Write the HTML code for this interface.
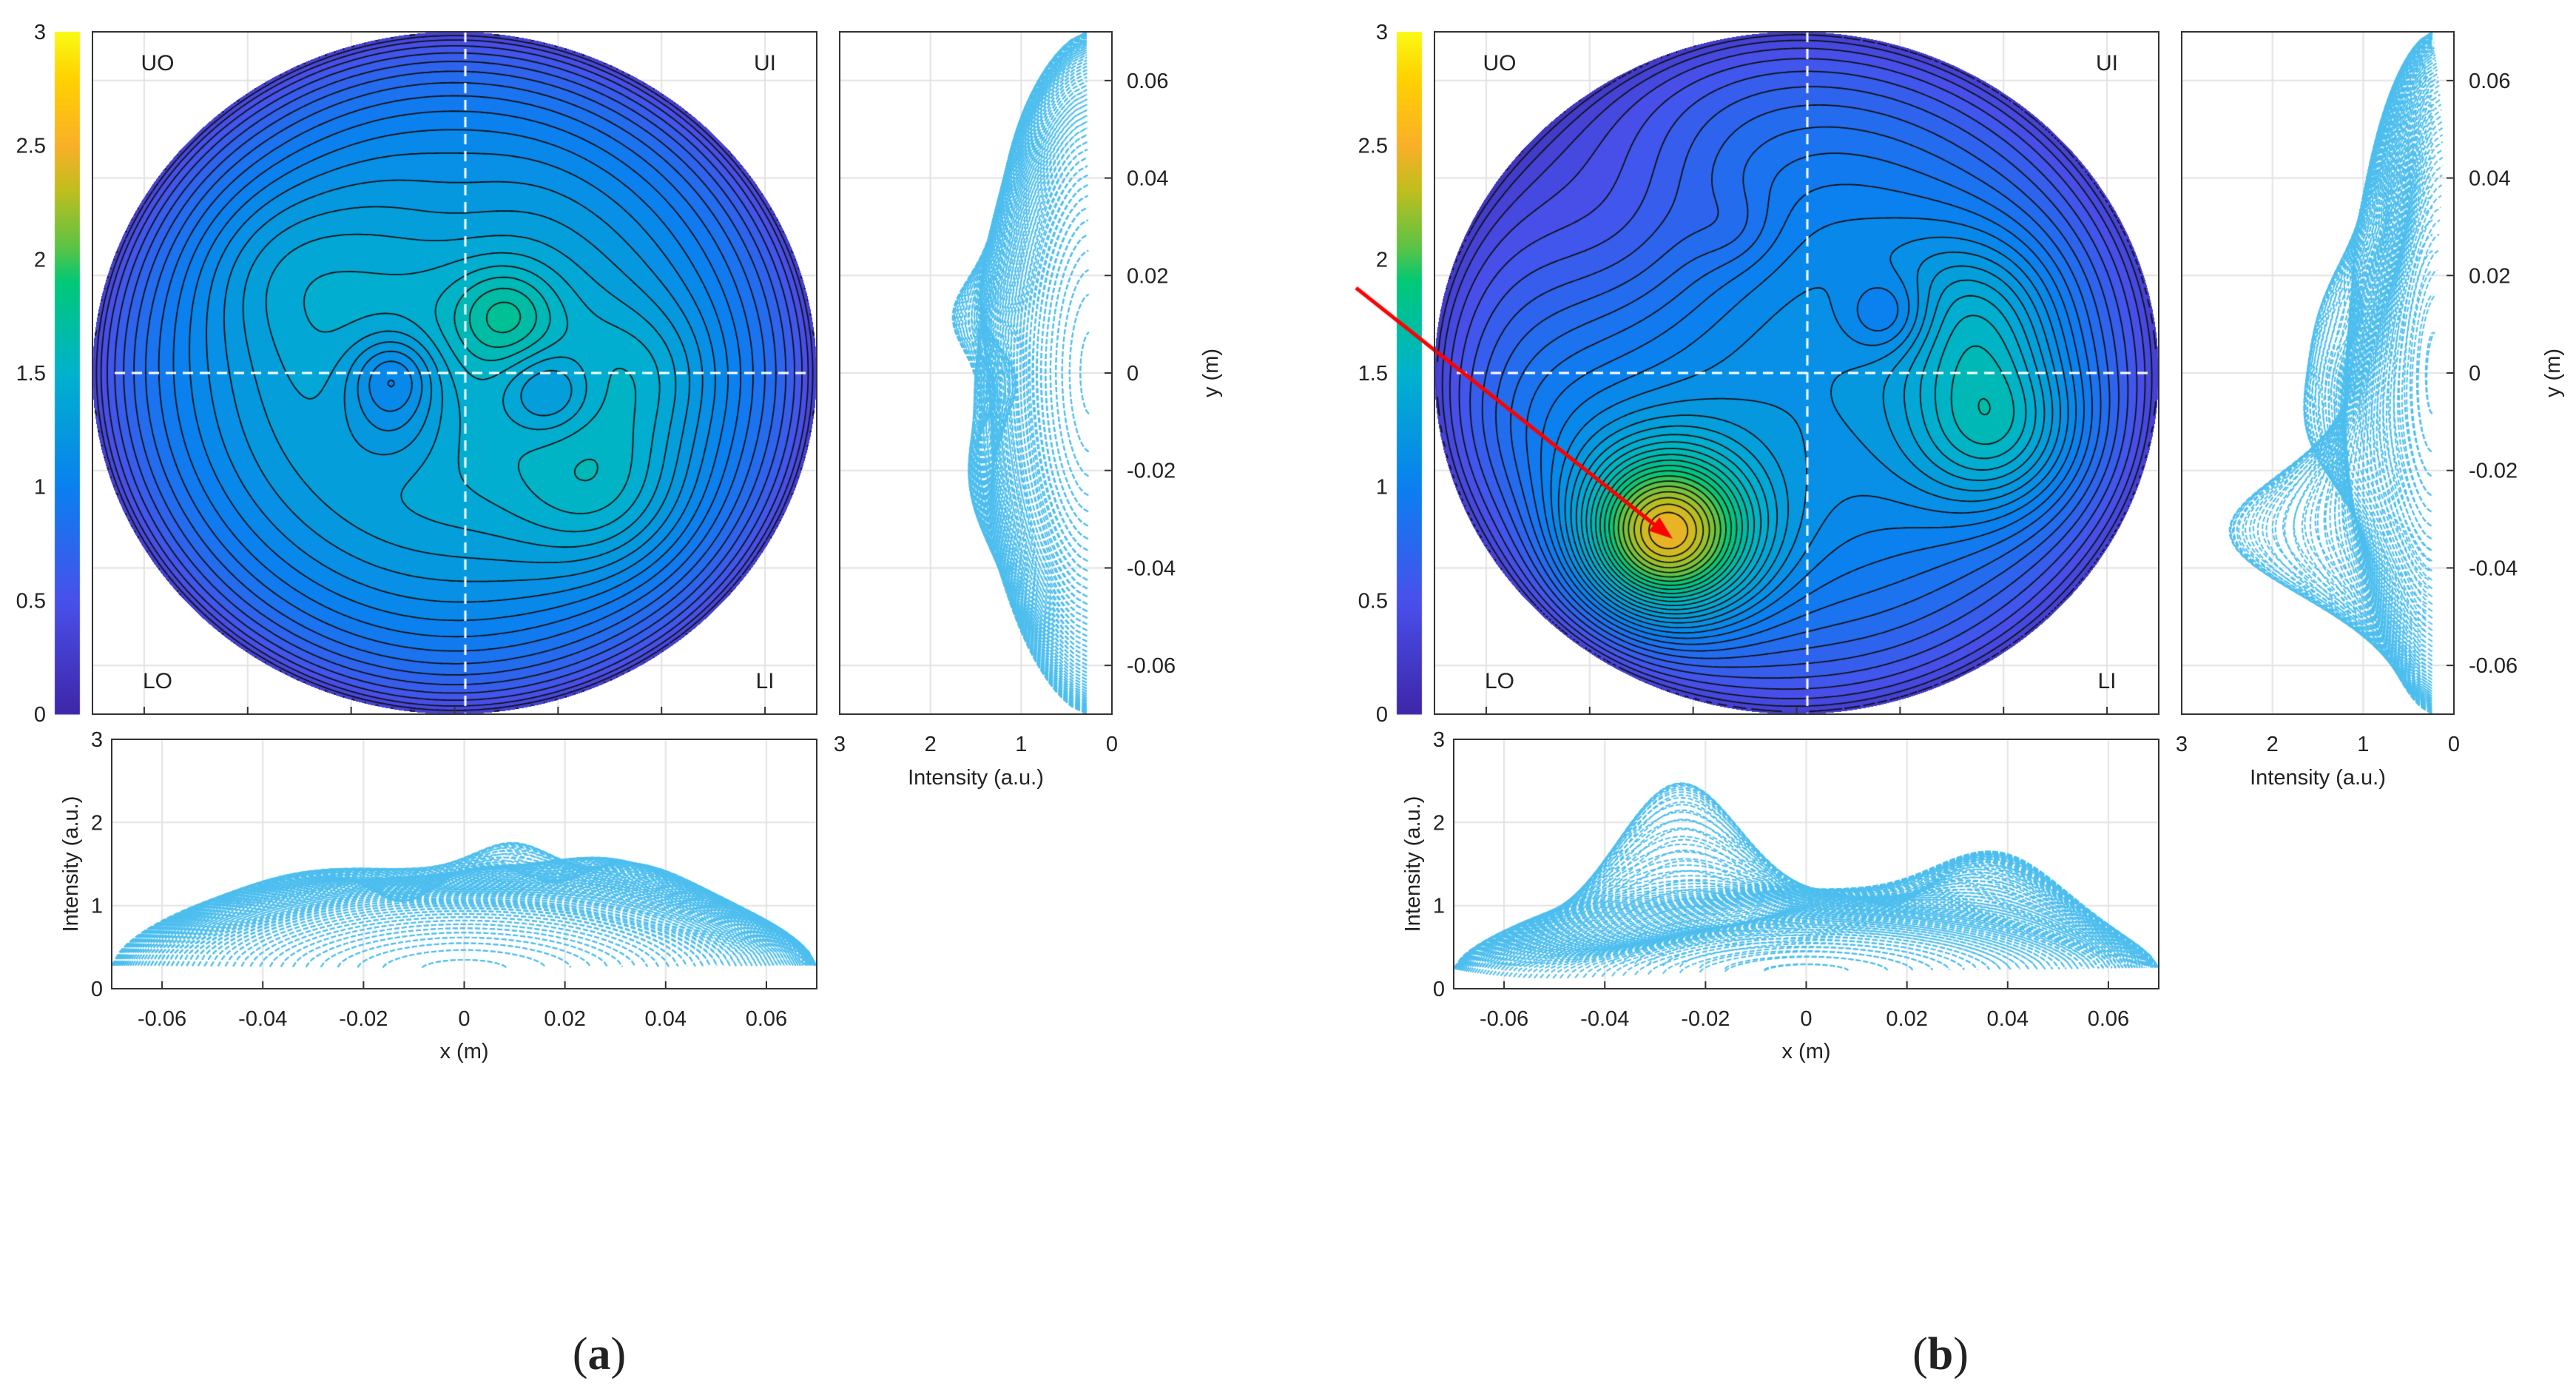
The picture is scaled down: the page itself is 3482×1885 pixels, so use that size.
<!DOCTYPE html>
<html><head><meta charset="utf-8"><style>
html,body{margin:0;padding:0;background:#fff}
#root{position:relative;width:3482px;height:1885px;overflow:hidden;font-family:"Liberation Sans",sans-serif}
canvas,svg{position:absolute;left:0;top:0}
</style></head><body>
<div id="root">
<canvas id="cv" width="3482" height="1885"></canvas>
<svg id="sv" width="3482" height="1885"></svg>
</div>
<script>
// ---- data ----
const radius = 0.07;
const xTicks = [-0.06,-0.04,-0.02,0,0.02,0.04,0.06];
const xTickLabels = ["-0.06","-0.04","-0.02","0","0.02","0.04","0.06"];
const cbTicks = [0,0.5,1,1.5,2,2.5,3];
const cbTickLabels = ["0","0.5","1","1.5","2","2.5","3"];
const intTicks = [0,1,2,3];
const intTickLabels = ["0","1","2","3"];
// panel (a) field model
const aBase = [0.25, 1.25];
const aPeakX = [-0.035, 0.010, 0.030, 0.037, -0.012, -0.012, 0.018, 0.0];
const aPeakY = [0.022, 0.012, -0.025, 0.0, 0.0, -0.010, -0.004, 0.035];
const aPeakAmp = [0.14, 0.3, 0.3, 0.18, -0.32, -0.22, -0.25, -0.06];
const aPeakW = [0.012, 0.007, 0.012, 0.01, 0.006, 0.008, 0.006, 0.01];
// panel (b) field model
const bBase = [0.22, 0.97];
const bPeakX = [-0.026, 0.040, 0.036, 0.018, -0.035, -0.012, -0.05];
const bPeakY = [-0.034, -0.012, 0.012, 0.012, 0.032, 0.03, -0.012];
const bPeakAmp = [1.7, 0.65, 0.45, -0.28, -0.38, -0.12, 0.12];
const bPeakW = [0.012, 0.012, 0.012, 0.006, 0.018, 0.006, 0.012];

const panels = [
 {off:0, base:aBase, px:aPeakX, py:aPeakY, pa:aPeakAmp, pw:aPeakW, label:"a", arrow:false},
 {off:1814, base:bBase, px:bPeakX, py:bPeakY, pa:bPeakAmp, pw:bPeakW, label:"b", arrow:true}
];

const cmapStops=[[0,62,38,168],[0.5,72,80,235],[1.0,10,128,240],[1.5,0,178,205],[1.9,0,200,120],[2.05,90,195,70],[2.3,190,190,30],[2.5,250,175,40],[2.8,255,210,0],[3,250,250,20]];
function cmap(v){v=Math.max(0,Math.min(3,v));for(let i=1;i<cmapStops.length;i++){const a=cmapStops[i-1],b=cmapStops[i];if(v<=b[0]){const t=(v-a[0])/(b[0]-a[0]);return [a[1]+t*(b[1]-a[1]),a[2]+t*(b[2]-a[2]),a[3]+t*(b[3]-a[3])];}}return [250,250,20];}

function field(p,x,y){const r2=(x*x+y*y)/(radius*radius);if(r2>1)return NaN;let v=p.base[0]+p.base[1]*Math.pow(1-r2,0.6);
 for(let i=0;i<p.px.length;i++){const dx=x-p.px[i],dy=y-p.py[i];v+=p.pa[i]*Math.exp(-(dx*dx+dy*dy)/(2*p.pw[i]*p.pw[i]))*Math.sqrt(1-r2*0.6);}return v;}

const cv=document.getElementById('cv'),ctx=cv.getContext('2d');
const sv=document.getElementById('sv');const NS="http://www.w3.org/2000/svg";
function el(tag,attrs,parent){const e=document.createElementNS(NS,tag);for(const k in attrs)e.setAttribute(k,attrs[k]);(parent||sv).appendChild(e);return e;}
function txt(x,y,s,anchor,size,rot){const t=el('text',{x:x,y:y,'font-size':size||29,'text-anchor':anchor||'middle','fill':'#222','font-family':'Liberation Sans, sans-serif'});if(rot)t.setAttribute('transform','rotate('+rot+' '+x+' '+y+')');t.textContent=s;return t;}

const STEP=0.075;
panels.forEach(p=>{
 const o=p.off;
 const M={l:125+o,r:1104+o,t:43,b:965};
 const S={l:1135+o,r:1503+o,t:43,b:965};
 const B={l:151+o,r:1104+o,t:999,b:1336};
 const CB={l:74+o,r:108+o,t:43,b:965};
 const mx=x=>M.l+(x+0.07)/0.14*(M.r-M.l), my=y=>M.b-(y+0.07)/0.14*(M.b-M.t);
 const bx=x=>B.l+(x+0.07)/0.14*(B.r-B.l), by=v=>B.b-v/3*(B.b-B.t);
 const sx=v=>S.r-v/3*(S.r-S.l), sy=my;
 ctx.strokeStyle='#e2e2e2';ctx.lineWidth=2;
 xTicks.forEach(t=>{ctx.beginPath();ctx.moveTo(mx(t),M.t);ctx.lineTo(mx(t),M.b);ctx.moveTo(M.l,my(t));ctx.lineTo(M.r,my(t));ctx.stroke();
  ctx.beginPath();ctx.moveTo(bx(t),B.t);ctx.lineTo(bx(t),B.b);ctx.moveTo(S.l,sy(t));ctx.lineTo(S.r,sy(t));ctx.stroke();});
 intTicks.forEach(t=>{ctx.beginPath();ctx.moveTo(B.l,by(t));ctx.lineTo(B.r,by(t));ctx.moveTo(sx(t),S.t);ctx.lineTo(sx(t),S.b);ctx.stroke();});
 const W=M.r-M.l,H=M.b-M.t;const img=ctx.getImageData(M.l,M.t,W,H);
 for(let j=0;j<H;j++)for(let i=0;i<W;i++){const x=-0.07+(i+0.5)/W*0.14,y=0.07-(j+0.5)/H*0.14;const v=field(p,x,y);if(isNaN(v))continue;
  const lv=Math.floor(v/STEP)*STEP+STEP/2;const c=cmap(lv);const k=(j*W+i)*4;img.data[k]=c[0];img.data[k+1]=c[1];img.data[k+2]=c[2];img.data[k+3]=255;}
 ctx.putImageData(img,M.l,M.t);
 const N=240;const g=[];for(let j=0;j<=N;j++){g[j]=[];for(let i=0;i<=N;i++){g[j][i]=field(p,-0.07+i/N*0.14,0.07-j/N*0.14);}}
 ctx.strokeStyle='#111';ctx.lineWidth=1.8;ctx.beginPath();
 const gx=i=>M.l+i/N*W, gy=j=>M.t+j/N*H;
 for(let L=STEP;L<3;L+=STEP){
  for(let j=0;j<N;j++)for(let i=0;i<N;i++){
   const a=g[j][i],b=g[j][i+1],c=g[j+1][i+1],d=g[j+1][i];if(isNaN(a)||isNaN(b)||isNaN(c)||isNaN(d))continue;
   const pts=[];
   if((a<L)!=(b<L))pts.push([gx(i+(L-a)/(b-a)),gy(j)]);
   if((b<L)!=(c<L))pts.push([gx(i+1),gy(j+(L-b)/(c-b))]);
   if((d<L)!=(c<L))pts.push([gx(i+(L-d)/(c-d)),gy(j+1)]);
   if((a<L)!=(d<L))pts.push([gx(i),gy(j+(L-a)/(d-a))]);
   for(let k=0;k+1<pts.length;k+=2){ctx.moveTo(pts[k][0],pts[k][1]);ctx.lineTo(pts[k+1][0],pts[k+1][1]);}
  }}
 ctx.stroke();
 ctx.strokeStyle='#fff';ctx.lineWidth=3;ctx.setLineDash([14,9]);ctx.beginPath();ctx.moveTo(629+o,M.t);ctx.lineTo(629+o,M.b);ctx.moveTo(M.l+30,my(0));ctx.lineTo(M.r-10,my(0));ctx.stroke();
 ctx.strokeStyle='#4DBEEE';ctx.lineWidth=2;ctx.setLineDash([7,3]);
 const NL=100;
 for(let j=0;j<=NL;j++){const y=-0.0695+j/NL*0.139;const hw=Math.sqrt(radius*radius-y*y)*0.999;
  ctx.beginPath();for(let k=0;k<=90;k++){const x=-hw+k/90*2*hw;const v=field(p,x,y);k?ctx.lineTo(bx(x),by(v)):ctx.moveTo(bx(x),by(v));}ctx.stroke();
  const xx=y;ctx.beginPath();for(let k=0;k<=90;k++){const yy=-hw+k/90*2*hw;const v=field(p,xx,yy);k?ctx.lineTo(sx(v),sy(yy)):ctx.moveTo(sx(v),sy(yy));}ctx.stroke();}
 ctx.setLineDash([]);
 for(let yy=CB.t;yy<CB.b;yy++){const v=(CB.b-yy)/(CB.b-CB.t)*3;const c=cmap(v);ctx.fillStyle='rgb('+c.map(Math.round).join(',')+')';ctx.fillRect(CB.l,yy,CB.r-CB.l,1.5);}
 if(p.arrow){ctx.strokeStyle='#f00';ctx.fillStyle='#f00';ctx.lineWidth=5;const x1=1833,y1=389,x2=2261,y2=728;ctx.beginPath();ctx.moveTo(x1,y1);ctx.lineTo(x2-22,y2-17);ctx.stroke();
  const ang=Math.atan2(y2-y1,x2-x1);ctx.beginPath();ctx.moveTo(x2,y2);ctx.lineTo(x2-34*Math.cos(ang-0.35),y2-34*Math.sin(ang-0.35));ctx.lineTo(x2-34*Math.cos(ang+0.35),y2-34*Math.sin(ang+0.35));ctx.fill();}
 const g2=el('g',{});
 [[M,'contour-axes'],[S,'side-profile-axes'],[B,'bottom-profile-axes']].forEach(([R,n])=>{const r=el('rect',{x:R.l,y:R.t,width:R.r-R.l,height:R.b-R.t,fill:'none',stroke:'#333','stroke-width':2},g2);});
 xTicks.forEach((t,i)=>{el('line',{x1:mx(t),y1:M.b,x2:mx(t),y2:M.b-10,stroke:'#333','stroke-width':2},g2);el('line',{x1:bx(t),y1:B.b,x2:bx(t),y2:B.b-10,stroke:'#333','stroke-width':2},g2);
  el('line',{x1:S.r,y1:sy(t),x2:S.r-10,y2:sy(t),stroke:'#333','stroke-width':2},g2);
  const a=txt(bx(t),B.b+50,xTickLabels[i]);
  const b2=txt(S.r+20,sy(t)+10,xTickLabels[i],'start');});
 intTicks.forEach((t,i)=>{const a=txt(B.l-12,by(t)+10,intTickLabels[i],'end');
  const b2=txt(sx(t),S.b+50,intTickLabels[i]);});
 cbTicks.forEach((t,i)=>{const yy=CB.b-t/3*(CB.b-CB.t);const a=txt(CB.l-12,yy+10,cbTickLabels[i],'end');});
 const q=[["UO",M.l+88,95],["UI",M.r-70,95],["LO",M.l+88,930],["LI",M.r-70,930]];
 q.forEach(([s,x,y])=>{const a=txt(x,y,s,'middle',30);});
 let a=txt((B.l+B.r)/2,1430,"x (m)",'middle',29);
 a=txt(105+o,(B.t+B.b)/2,"Intensity (a.u.)",'middle',29,-90);
 a=txt((S.l+S.r)/2,1060,"Intensity (a.u.)",'middle',29);
 a=txt(1646+o,(S.t+S.b)/2,"y (m)",'middle',29,-90);
 a=txt(p.label=="a"?810:2623,1850,"","middle",62);
 a.setAttribute('font-family','Liberation Serif, serif');
 const t1=el('tspan',{},a);t1.textContent="(";const t2=el('tspan',{'font-weight':'bold'},a);t2.textContent=p.label;const t3=el('tspan',{},a);t3.textContent=")";
});
</script>
</body></html>
